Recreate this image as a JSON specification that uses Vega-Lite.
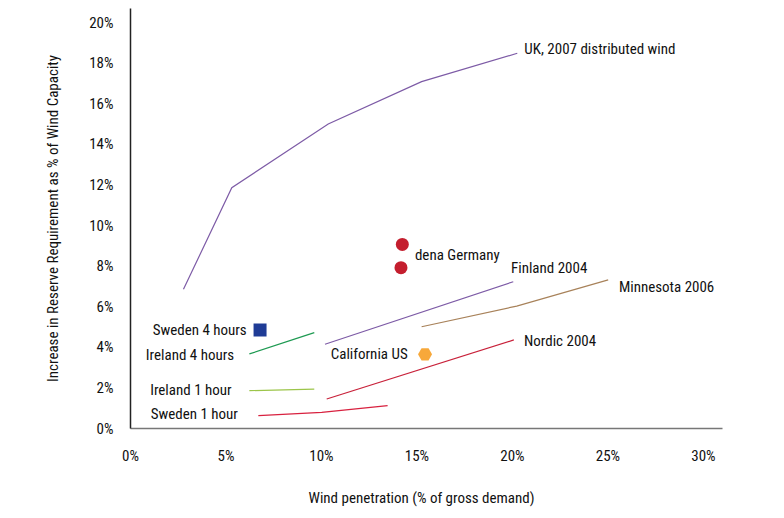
{
  "$schema": "https://vega.github.io/schema/vega-lite/v6.json",
  "width": 592,
  "height": 420,
  "autosize": "none",
  "padding": {"left": 130, "top": 8, "right": 62, "bottom": 90},
  "background": "white",
  "config": {
    "view": {"stroke": null},
    "font": "Roboto Condensed, Liberation Sans Narrow, Roboto, sans-serif",
    "text": {"font": "Roboto Condensed, Liberation Sans Narrow, Roboto, sans-serif", "fontSize": 15, "fill": "#111111"}
  },
  "datasets": {
    "lines": [
      {"series": "UK, 2007 distributed wind", "x": 2.8, "y": 6.84},
      {"series": "UK, 2007 distributed wind", "x": 5.33, "y": 11.84},
      {"series": "UK, 2007 distributed wind", "x": 10.38, "y": 14.98},
      {"series": "UK, 2007 distributed wind", "x": 15.27, "y": 17.07},
      {"series": "UK, 2007 distributed wind", "x": 20.28, "y": 18.47},
      {"series": "Finland 2004", "x": 10.21, "y": 4.13},
      {"series": "Finland 2004", "x": 20.07, "y": 7.21},
      {"series": "Minnesota 2006", "x": 15.27, "y": 4.99},
      {"series": "Minnesota 2006", "x": 20.25, "y": 6.01},
      {"series": "Minnesota 2006", "x": 25.04, "y": 7.3},
      {"series": "Ireland 4 hours", "x": 6.25, "y": 3.65},
      {"series": "Ireland 4 hours", "x": 9.65, "y": 4.7},
      {"series": "Nordic 2004", "x": 10.3, "y": 1.43},
      {"series": "Nordic 2004", "x": 20.1, "y": 4.34},
      {"series": "Ireland 1 hour", "x": 6.25, "y": 1.84},
      {"series": "Ireland 1 hour", "x": 9.65, "y": 1.92},
      {"series": "Sweden 1 hour", "x": 6.72, "y": 0.61},
      {"series": "Sweden 1 hour", "x": 10.04, "y": 0.77},
      {"series": "Sweden 1 hour", "x": 13.49, "y": 1.1}
    ],
    "labelsLeft": [
      {"label": "UK, 2007 distributed wind", "x": 20.65, "y": 18.67},
      {"label": "dena Germany", "x": 14.92, "y": 8.53},
      {"label": "Finland 2004", "x": 19.95, "y": 7.89},
      {"label": "Minnesota 2006", "x": 25.6, "y": 6.97},
      {"label": "Nordic 2004", "x": 20.63, "y": 4.29}
    ],
    "labelsRight": [
      {"label": "Sweden 4 hours", "x": 6.11, "y": 4.83},
      {"label": "Ireland 4 hours", "x": 5.45, "y": 3.6},
      {"label": "California US", "x": 14.54, "y": 3.65},
      {"label": "Ireland 1 hour", "x": 5.32, "y": 1.87},
      {"label": "Sweden 1 hour", "x": 5.65, "y": 0.69}
    ]
  },
  "layer": [
    {
      "data": {"name": "lines"},
      "mark": {"type": "line", "strokeWidth": 1.2},
      "encoding": {
        "x": {
          "field": "x", "type": "quantitative",
          "scale": {"domain": [0, 31], "nice": false, "zero": false},
          "axis": {
            "values": [0, 5, 10, 15, 20, 25, 30],
            "labelExpr": "datum.value + '%'",
            "labelFlush": false,
            "grid": false, "ticks": false,
            "domainColor": "#777", "domainWidth": 1.5,
            "labelFont": "Roboto Condensed, Liberation Sans Narrow, Roboto, sans-serif", "labelFontSize": 15, "labelColor": "#111111",
            "labelPadding": 20,
            "title": "Wind penetration (% of gross demand)",
            "titleFont": "Roboto Condensed, Liberation Sans Narrow, Roboto, sans-serif", "titleFontSize": 15, "titleFontWeight": "normal", "titleColor": "#111111",
            "titleX": 291, "titleY": 69, "titleBaseline": "middle", "titleAlign": "center"
          }
        },
        "y": {
          "field": "y", "type": "quantitative",
          "scale": {"domain": [0, 20.7], "nice": false, "zero": false},
          "axis": {
            "values": [0, 2, 4, 6, 8, 10, 12, 14, 16, 18, 20],
            "labelExpr": "datum.value + '%'",
            "labelFlush": false,
            "grid": false, "ticks": false,
            "domainColor": "#222", "domainWidth": 1.5,
            "labelFont": "Roboto Condensed, Liberation Sans Narrow, Roboto, sans-serif", "labelFontSize": 15, "labelColor": "#111111",
            "labelPadding": 17,
            "title": "Increase in Reserve Requirement as % of Wind Capacity",
            "titleFont": "Roboto Condensed, Liberation Sans Narrow, Roboto, sans-serif", "titleFontSize": 15, "titleFontWeight": "normal", "titleColor": "#111111",
            "titleX": -78, "titleY": 210, "titleAngle": -90, "titleBaseline": "middle", "titleAlign": "center"
          }
        },
        "color": {
          "field": "series", "type": "nominal", "legend": null,
          "scale": {
            "domain": ["UK, 2007 distributed wind", "Finland 2004", "Minnesota 2006", "Ireland 4 hours", "Nordic 2004", "Ireland 1 hour", "Sweden 1 hour"],
            "range": ["#7D5BA6", "#7D5BA6", "#A8825A", "#1E9A52", "#C8213A", "#9CC54A", "#D8213F"]
          }
        }
      }
    },
    {
      "data": {"values": [
        {"name": "dena Germany", "x": 14.26, "y": 9.05},
        {"name": "dena Germany", "x": 14.19, "y": 7.9}
      ]},
      "mark": {"type": "point", "shape": "circle", "filled": true, "size": 169, "color": "#C41E2E", "opacity": 1},
      "encoding": {
        "x": {"field": "x", "type": "quantitative"},
        "y": {"field": "y", "type": "quantitative"}
      }
    },
    {
      "data": {"values": [{"name": "Sweden 4 hours", "x": 6.81, "y": 4.83}]},
      "mark": {"type": "point", "shape": "square", "filled": true, "size": 169, "color": "#1F3C96", "opacity": 1},
      "encoding": {
        "x": {"field": "x", "type": "quantitative"},
        "y": {"field": "y", "type": "quantitative"}
      }
    },
    {
      "data": {"values": [{"name": "California US", "x": 15.45, "y": 3.63}]},
      "mark": {"type": "point", "shape": "M-1,0L-0.5,-0.866L0.5,-0.866L1,0L0.5,0.866L-0.5,0.866Z", "filled": true, "size": 196, "color": "#F7A83A", "opacity": 1},
      "encoding": {
        "x": {"field": "x", "type": "quantitative"},
        "y": {"field": "y", "type": "quantitative"}
      }
    },
    {
      "data": {"name": "labelsLeft"},
      "mark": {"type": "text", "align": "left", "baseline": "middle"},
      "encoding": {
        "x": {"field": "x", "type": "quantitative"},
        "y": {"field": "y", "type": "quantitative"},
        "text": {"field": "label"}
      }
    },
    {
      "data": {"name": "labelsRight"},
      "mark": {"type": "text", "align": "right", "baseline": "middle"},
      "encoding": {
        "x": {"field": "x", "type": "quantitative"},
        "y": {"field": "y", "type": "quantitative"},
        "text": {"field": "label"}
      }
    }
  ]
}
